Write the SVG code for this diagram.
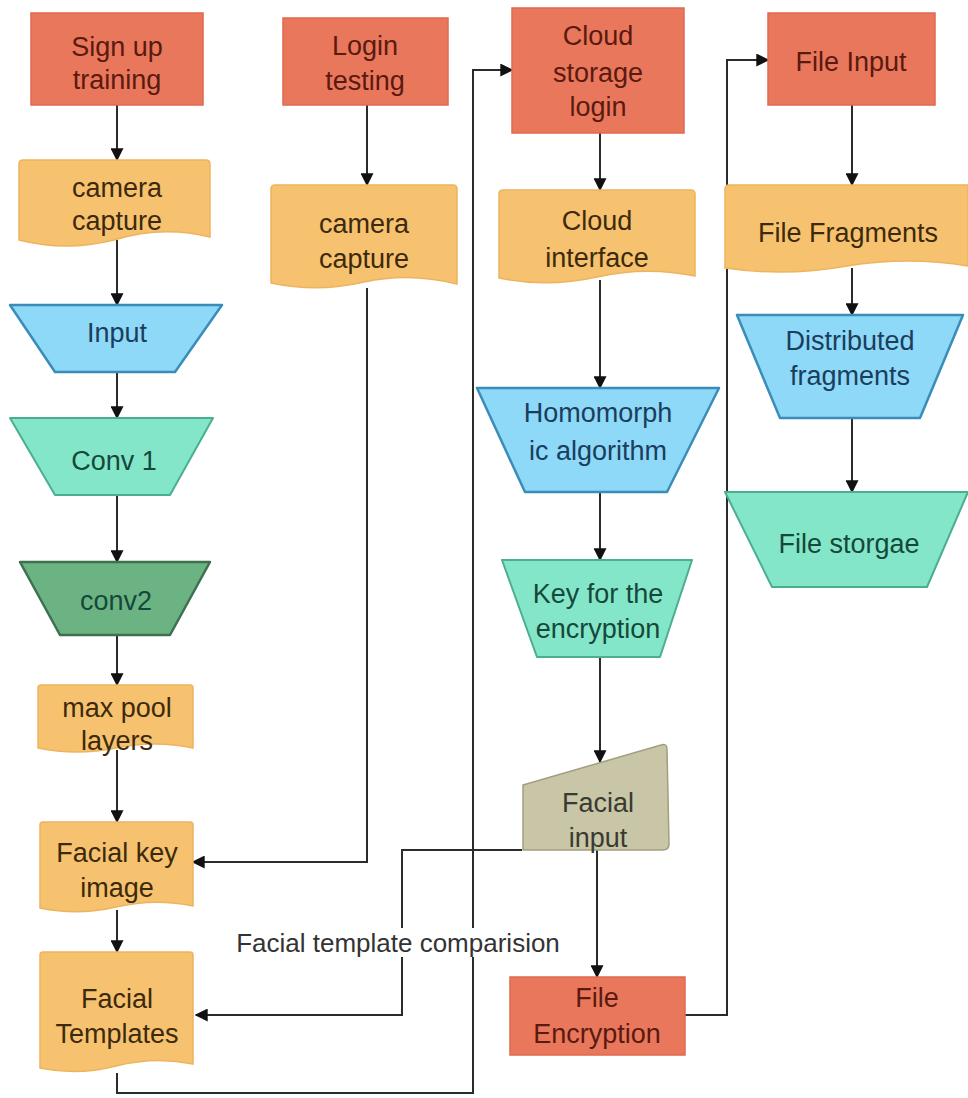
<svg xmlns="http://www.w3.org/2000/svg" width="968" height="1098" viewBox="0 0 968 1098">
<defs>
<marker id="ah" viewBox="0 0 10 10" refX="9" refY="5" markerWidth="6.5" markerHeight="6.5" orient="auto">
<path d="M0,0 L10,5 L0,10 Z" fill="#111"/>
</marker>
<style>
.t{font-family:"Liberation Sans",Arial,sans-serif;font-size:27px;text-anchor:middle}
.red{fill:#E9775C;stroke:#E0694F;stroke-width:1.5}
.org{fill:#F6C270;stroke:#EDB45E;stroke-width:1.5}
.blu{fill:#8ED8F8;stroke:#3A8DB8;stroke-width:2.5;stroke-linejoin:round}
.mnt{fill:#84E6C8;stroke:#4BAE90;stroke-width:2;stroke-linejoin:round}
.dgr{fill:#6BB382;stroke:#3E7050;stroke-width:2.5;stroke-linejoin:round}
.kha{fill:#C8C6A6;stroke:#A29E7F;stroke-width:1.5;stroke-linejoin:round}
.tr{fill:#5A1A10}
.to{fill:#3D2A0C}
.tb{fill:#1A3E5C}
.tm{fill:#15483A}
.tk{fill:#3A3A32}
.c{fill:none;stroke:#2B2B2B;stroke-width:2}
.ca{fill:none;stroke:#2B2B2B;stroke-width:2;marker-end:url(#ah)}
</style>
</defs>
<rect width="968" height="1098" fill="#ffffff"/>

<g id="connectors">
<path class="ca" d="M117,105 V160"/>
<path class="ca" d="M117,240 V305"/>
<path class="ca" d="M117,372 V418"/>
<path class="ca" d="M117,495 V562"/>
<path class="ca" d="M117,635 V685"/>
<path class="ca" d="M117,750 V822"/>
<path class="ca" d="M117,910 V952"/>
<path class="ca" d="M367,105 V185"/>
<path class="ca" d="M367,288 V862 H193"/>
<path class="ca" d="M600,133 V190"/>
<path class="ca" d="M600,280 V388"/>
<path class="ca" d="M600,492 V560"/>
<path class="ca" d="M600,657 V762"/>
<path class="ca" d="M597,850 V977"/>
<path class="ca" d="M522,850 H402 V1015 H196"/>
<path class="ca" d="M117,1073 V1093 H473 V70 H512"/>
<path class="ca" d="M685,1015 H727 V60 H768"/>
<path class="ca" d="M852,105 V185"/>
<path class="ca" d="M852,268 V315"/>
<path class="ca" d="M852,418 V492"/>
</g>

<g id="label-comparison">
<rect x="228" y="928" width="340" height="29" fill="#ffffff"/>
<text x="398" y="952" style="font-family:'Liberation Sans',Arial,sans-serif;font-size:26px;text-anchor:middle;fill:#333">Facial template comparision</text>
</g>

<g id="sign-up-training">
<rect class="red" x="31" y="13" width="172" height="92"/>
<text class="t tr" x="117" y="56">Sign up</text>
<text class="t tr" x="117" y="89">training</text>
</g>

<g id="camera-capture-1">
<path class="org" d="M19,164 Q19,160 23,160 H206 Q210,160 210,164 V237 Q162,225 114,240 Q66,252 19,240 Z"/>
<text class="t to" x="117" y="197">camera</text>
<text class="t to" x="117" y="230">capture</text>
</g>

<g id="input">
<polygon class="blu" points="10,305 222,305 175,372 55,372"/>
<text class="t tb" x="117" y="342">Input</text>
</g>

<g id="conv1">
<polygon class="mnt" points="10,418 213,418 170,495 55,495"/>
<text class="t tm" x="114" y="470">Conv 1</text>
</g>

<g id="conv2">
<polygon class="dgr" points="20,562 210,562 170,635 60,635"/>
<text class="t tm" x="116" y="610">conv2</text>
</g>

<g id="max-pool-layers">
<path class="org" d="M38,688 Q38,685 41,685 H190 Q193,685 193,688 V748 Q155,740 116,748 Q77,756 38,748 Z"/>
<text class="t to" x="117" y="717">max pool</text>
<text class="t to" x="117" y="750">layers</text>
</g>

<g id="facial-key-image">
<path class="org" d="M40,825 Q40,822 43,822 H190 Q193,822 193,825 V906 Q155,898 116,907 Q78,916 40,908 Z"/>
<text class="t to" x="117" y="862">Facial key</text>
<text class="t to" x="117" y="897">image</text>
</g>

<g id="facial-templates">
<path class="org" d="M40,955 Q40,952 43,952 H190 Q193,952 193,955 V1064 Q155,1056 116,1066 Q78,1076 40,1068 Z"/>
<text class="t to" x="117" y="1008">Facial</text>
<text class="t to" x="117" y="1043">Templates</text>
</g>

<g id="login-testing">
<rect class="red" x="283" y="18" width="165" height="87"/>
<text class="t tr" x="365" y="55">Login</text>
<text class="t tr" x="365" y="90">testing</text>
</g>

<g id="camera-capture-2">
<path class="org" d="M271,189 Q271,185 275,185 H453 Q457,185 457,189 V284 Q410,272 364,282 Q318,293 271,283 Z"/>
<text class="t to" x="364" y="233">camera</text>
<text class="t to" x="364" y="268">capture</text>
</g>

<g id="cloud-storage-login">
<rect class="red" x="512" y="8" width="172" height="125"/>
<text class="t tr" x="598" y="45">Cloud</text>
<text class="t tr" x="598" y="82">storage</text>
<text class="t tr" x="598" y="116">login</text>
</g>

<g id="cloud-interface">
<path class="org" d="M499,194 Q499,190 503,190 H691 Q695,190 695,194 V276 Q646,266 597,277 Q548,288 499,278 Z"/>
<text class="t to" x="597" y="230">Cloud</text>
<text class="t to" x="597" y="267">interface</text>
</g>

<g id="homomorphic-algorithm">
<polygon class="blu" points="477,388 719,388 667,492 525,492"/>
<text class="t tb" x="598" y="422">Homomorph</text>
<text class="t tb" x="598" y="460">ic algorithm</text>
</g>

<g id="key-for-encryption">
<polygon class="mnt" points="502,560 692,560 660,657 537,657"/>
<text class="t tm" x="598" y="603">Key for the</text>
<text class="t tm" x="598" y="638">encryption</text>
</g>

<g id="facial-input">
<path class="kha" d="M523,785 L661,745 Q667,743 667,749 L669,844 Q669,850 663,850 H523 Z"/>
<text class="t tk" x="598" y="812">Facial</text>
<text class="t tk" x="598" y="847">input</text>
</g>

<g id="file-encryption">
<rect class="red" x="510" y="977" width="175" height="78"/>
<text class="t tr" x="597" y="1007">File</text>
<text class="t tr" x="597" y="1043">Encryption</text>
</g>

<g id="file-input">
<rect class="red" x="768" y="13" width="167" height="92"/>
<text class="t tr" x="851" y="71">File Input</text>
</g>

<g id="file-fragments">
<path class="org" d="M725,189 Q725,185 729,185 H968 V266 Q908,256 847,266 Q786,277 725,268 Z"/>
<text class="t to" x="848" y="242">File Fragments</text>
</g>

<g id="distributed-fragments">
<polygon class="blu" points="737,315 963,315 920,418 780,418"/>
<text class="t tb" x="850" y="350">Distributed</text>
<text class="t tb" x="850" y="385">fragments</text>
</g>

<g id="file-storage">
<polygon class="mnt" points="725,492 968,492 927,587 772,587"/>
<text class="t tm" x="849" y="553">File storgae</text>
</g>
</svg>
